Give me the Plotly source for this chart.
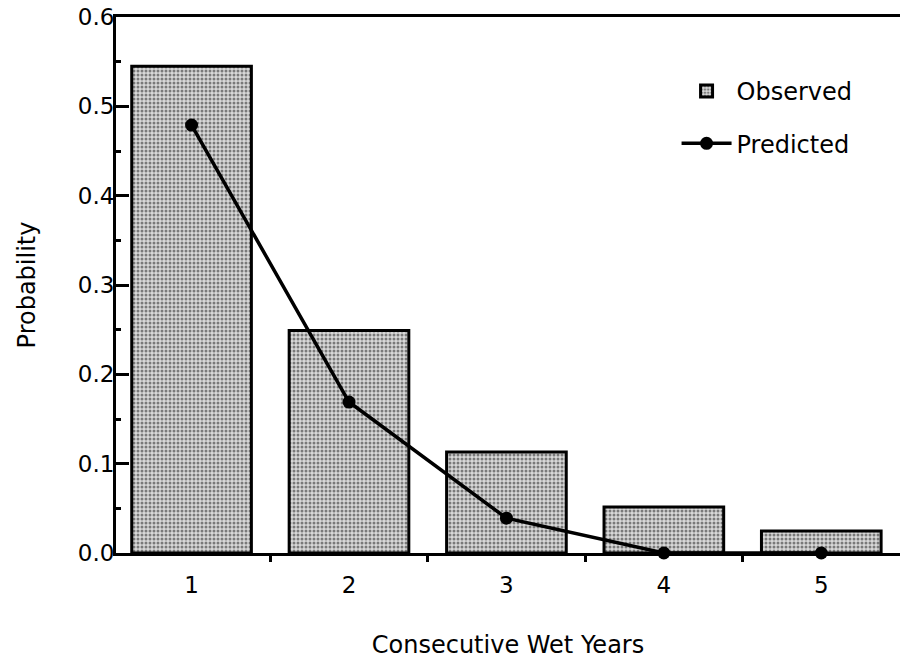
import plotly.graph_objects as go

years = [1, 2, 3, 4, 5]
year_labels = ["1", "2", "3", "4", "5"]
observed = [0.545, 0.249, 0.113, 0.0515, 0.0246]
predicted = [0.479, 0.169, 0.039, 0.0, 0.0]

FONT = "DejaVu Sans"

fig = go.Figure()
fig.add_trace(go.Bar(
    x=years, y=observed, name="Observed", width=0.76,
    legendgroup="obs",
    marker=dict(
        color="#c0c0c0",
        line=dict(color="black", width=3),
        pattern=dict(shape=".", fgcolor="#1a1a1a", bgcolor="#d8d8d8",
                     size=4, solidity=0.45),
    ),
))
fig.add_trace(go.Scatter(
    x=years, y=predicted, name="Predicted", mode="lines+markers",
    legendgroup="pred",
    line=dict(color="black", width=3.5),
    marker=dict(color="black", size=13),
    cliponaxis=False,
))

fig.update_layout(
    width=900, height=661,
    margin=dict(l=116, r=0, t=17, b=108),
    paper_bgcolor="white", plot_bgcolor="white",
    font=dict(family=FONT, size=23, color="black"),
    showlegend=True,
    legend=dict(x=0.715, y=0.903, xanchor="left", yanchor="top",
                bgcolor="rgba(0,0,0,0)", font=dict(size=24),
                tracegroupgap=18, itemwidth=50),
    xaxis=dict(
        range=[0.52, 5.5], showgrid=False, zeroline=False,
        showline=True, linecolor="black", linewidth=3, mirror=True,
        tickmode="array", tickvals=years, ticktext=year_labels,
        ticks="", ticklabelstandoff=9,
        minor=dict(ticks="outside", tickmode="array",
                   tickvals=[1.5, 2.5, 3.5, 4.5], ticklen=6,
                   tickwidth=3, tickcolor="black", showgrid=False),
        title=dict(text="Consecutive Wet Years", standoff=40,
                   font=dict(size=24)),
    ),
    yaxis=dict(
        range=[0, 0.6], showgrid=False, zeroline=False,
        showline=True, linecolor="black", linewidth=3,
        tickmode="linear", tick0=0, dtick=0.1, tickformat=".1f",
        ticks="inside", ticklen=13, tickwidth=3, tickcolor="black",
        ticklabelstandoff=-6,
        minor=dict(ticks="inside", dtick=0.05, ticklen=5, tickwidth=3,
                   tickcolor="black", showgrid=False),
        title=dict(text="Probability", standoff=36, font=dict(size=24)),
    ),
)

fig.write_html("out.html")
